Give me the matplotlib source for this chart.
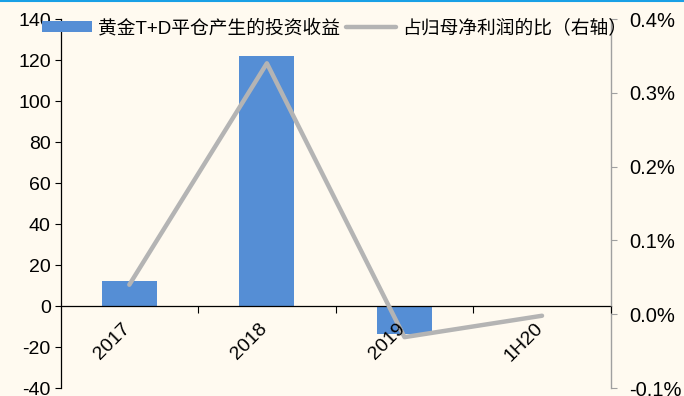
import numpy as np
import matplotlib.pyplot as plt
from matplotlib.lines import Line2D
from matplotlib.ticker import FuncFormatter

plt.rcParams['font.family'] = ['Liberation Sans', 'Noto Sans CJK SC', 'DejaVu Sans']
plt.rcParams['axes.unicode_minus'] = False

# data
categories = ['2017', '2018', '2019', '1H20']
gain = [12.0, 122.0, -13.5, 0.0]            # 黄金T+D平仓产生的投资收益
ratio = [0.0004, 0.0034, -0.00031, -0.00002]  # 占归母净利润的比（右轴）

bg = '#fffaf0'
bar_color = '#558ed5'
line_color = '#b4b4b4'

fig = plt.figure(figsize=(6.84, 3.96), dpi=100, facecolor=bg)
ax = fig.add_axes([0.0885, 0.02, 0.8045, 0.932])
ax.set_facecolor(bg)
x = np.arange(len(categories))

bars = ax.bar(x, gain, width=0.4, color=bar_color, zorder=1,
              label='黄金T+D平仓产生的投资收益')
ax.set_xlim(-0.5, len(categories) - 0.5)
ax.set_ylim(-40, 140)
ax.set_yticks(np.arange(-40, 141, 20))
ax.tick_params(axis='y', labelsize=14, length=4, width=0.8, direction='out', pad=3)

# x axis on the zero line, ticks between categories
ax.spines['bottom'].set_position(('data', 0))
ax.spines['top'].set_visible(False)
ax.spines['right'].set_visible(False)
ax.spines['left'].set_linewidth(0.9)
ax.spines['bottom'].set_linewidth(0.9)

# right axis
ax2 = ax.twinx()
ln, = ax2.plot(x, ratio, color=line_color, lw=3.2, solid_capstyle='round',
               zorder=3, label='占归母净利润的比（右轴）')
ax2.set_ylim(-0.001, 0.004)
ax2.set_yticks(np.arange(-0.001, 0.0041, 0.001))
ax2.yaxis.set_major_formatter(FuncFormatter(lambda v, p: f'{v * 100:.1f}%'))
ax2.tick_params(axis='y', labelsize=14.5, length=4, width=0.8, color='#a0a0a0', pad=9)
for s in ['top', 'left']:
    ax2.spines[s].set_visible(False)
ax2.spines['right'].set_color('#a0a0a0')
ax2.spines['right'].set_linewidth(1.0)

# category labels drawn on the twin so they sit above the bars and the line
ax2.xaxis.set_visible(True)
ax2.spines['bottom'].set_position(('axes', 40 / 180))
ax2.spines['bottom'].set_visible(False)
ax2.set_xticks(x + 0.03)
ax2.set_xticklabels(categories, rotation=45, ha='right', fontsize=14)
ax2.set_xticks(np.arange(0.5, len(categories), 1), minor=True)
ax2.tick_params(axis='x', which='major', bottom=True, labelbottom=True, length=0, pad=10)
ax2.tick_params(axis='x', which='minor', bottom=True, length=5, width=0.8,
                direction='out', color='black')
ax2.xaxis.set_zorder(4)
ax.tick_params(axis='x', which='both', bottom=False, labelbottom=False)

fig.legend([bars, ln], [bars.get_label(), ln.get_label()], ncol=2,
           loc='center left', bbox_to_anchor=(0.061, 0.928), frameon=False,
           fontsize=13.5, handlelength=2.7, handleheight=0.55, handletextpad=0.3,
           columnspacing=0.3, borderaxespad=0, borderpad=0)

# thin blue rule at the very top
fig.add_artist(Line2D([0, 1], [0.997, 0.997], color='#19a0e6', lw=1.5,
                      transform=fig.transFigure))

fig.savefig('out.png', dpi=100, facecolor=bg)
